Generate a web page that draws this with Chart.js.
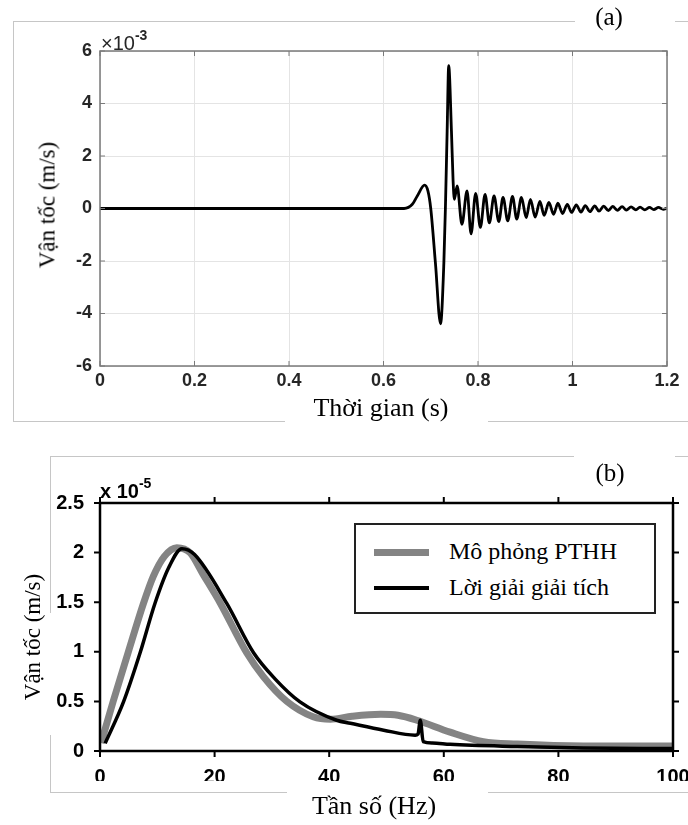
<!DOCTYPE html>
<html>
<head>
<meta charset="utf-8">
<script src="https://cdn.jsdelivr.net/npm/chart.js@4.4.1/dist/chart.umd.min.js"></script>
<style>
  html, body { margin: 0; padding: 0; background: #fff; }
  #page { position: relative; width: 688px; height: 825px; overflow: hidden; }
  canvas { position: absolute; left: 0; }
  .rule { position: absolute; background: #c6c6c6; }
  .txt { position: absolute; white-space: nowrap; line-height: 1; }
  .serif { font-family: 'Liberation Serif', 'Times New Roman', serif; color: #000; }
  .mid { transform: translate(-50%, -50%); }
  .ytitle { transform: translate(-50%, -50%) rotate(-90deg); }
  .expA { font-family: 'Liberation Sans', Arial, sans-serif; color: #262626; font-size: 20px; }
  .expA sup { font-size: 14px; font-weight: bold; position: relative; top: -2px; }
  .expB { font-family: 'Liberation Sans', Arial, sans-serif; color: #000; font-size: 20px; font-weight: bold; }
  .expB sup { font-size: 14px; position: relative; top: -2px; }
  #legendB { position: absolute; left: 354px; top: 523px; width: 298px; height: 87px; border: 2px solid #222; background: #fff; }
</style>
</head>
<body>
<div id="page">
  <canvas id="chartA" width="688" height="440" style="top:0"></canvas>
  <canvas id="chartB" width="688" height="385" style="top:440px"></canvas>

  <!-- leftover frame lines of the two panels -->
  <div class="rule" style="left:13px;top:21px;width:562px;height:1px"></div>
  <div class="rule" style="left:675px;top:21px;width:13px;height:1px"></div>
  <div class="rule" style="left:13px;top:21px;width:1px;height:400px"></div>
  <div class="rule" style="left:13px;top:421px;width:272px;height:1px"></div>
  <div class="rule" style="left:488px;top:421px;width:200px;height:1px"></div>

  <div class="rule" style="left:50px;top:456px;width:524px;height:1px"></div>
  <div class="rule" style="left:675px;top:456px;width:13px;height:1px"></div>
  <div class="rule" style="left:50px;top:456px;width:1px;height:157px"></div>
  <div class="rule" style="left:50px;top:735px;width:1px;height:57px"></div>
  <div class="rule" style="left:50px;top:792px;width:237px;height:1px"></div>
  <div class="rule" style="left:488px;top:792px;width:200px;height:1px"></div>

  <div class="txt serif mid" style="left:609px;top:16px;font-size:25px">(a)</div>
  <div class="txt serif mid" style="left:610px;top:472px;font-size:25px">(b)</div>

  <div class="txt serif mid" style="left:381px;top:408px;font-size:26px">Thời gian (s)</div>
  <div class="txt serif ytitle" style="left:47px;top:205px;font-size:23px">Vận tốc (m/s)</div>
  <div class="txt expA" style="left:101px;top:30px">×10<sup>-3</sup></div>

  <div class="txt serif mid" style="left:374px;top:806px;font-size:26px">Tần số (Hz)</div>
  <div class="txt serif ytitle" style="left:32px;top:637px;font-size:23px">Vận tốc (m/s)</div>
  <div class="txt expB" style="left:100px;top:478px">x 10<sup>-5</sup></div>

  <div id="legendB"></div>
</div>

<script>
// (a) velocity vs time, values in 1e-3 m/s
const timeS = [0, 0.62, 0.6434, 0.661, 0.6715, 0.687, 0.694, 0.70, 0.710, 0.7207, 0.7277, 0.731,
  0.7347, 0.738, 0.7438, 0.7473, 0.750, 0.7558, 0.766, 0.7768, 0.7853, 0.795, 0.805, 0.815,
  0.824, 0.834, 0.844, 0.853, 0.863, 0.873, 0.882, 0.892, 0.902, 0.911, 0.921, 0.931, 0.940,
  0.950, 0.960, 0.969, 0.979, 0.989, 0.998, 1.008, 1.018, 1.027, 1.037, 1.047, 1.056, 1.066,
  1.076, 1.085, 1.095, 1.105, 1.114, 1.124, 1.134, 1.143, 1.153, 1.163, 1.172, 1.182, 1.192, 1.2];
const velA = [0, 0, 0, 0.16, 0.48, 0.89, 0.67, 0, -2.1, -4.39, -2.1, 0,
  2.95, 5.44, 2.95, 1.05, 0.35, 0.86, -0.6, 0.67, -0.97, 0.58, -0.72, 0.54,
  -0.55, 0.48, -0.5, 0.42, -0.47, 0.46, -0.4, 0.42, -0.35, 0.35, -0.33, 0.27, -0.26,
  0.23, -0.22, 0.2, -0.19, 0.16, -0.15, 0.14, -0.14, 0.11, -0.12, 0.1, -0.1, 0.09,
  -0.08, 0.08, -0.07, 0.07, -0.06, 0.06, -0.05, 0.05, -0.05, 0.04, -0.04, 0.04, -0.03, 0.01];
const timeTicks = [0, 0.2, 0.4, 0.6, 0.8, 1, 1.2];
const velTicks = [-6, -4, -2, 0, 2, 4, 6];

// (b) spectrum, values in 1e-5 m/s
const freqFE = [0.2, 2.3, 4.9, 7.6, 9.3, 11.2, 13.4, 15.7, 18.0, 21.0, 25.6, 28.5, 32.6, 37.2,
  40.2, 44.0, 49.0, 52.0, 55.3, 61.1, 66.9, 72.8, 84.4, 100];
const specFE = [0.08, 0.5, 0.99, 1.49, 1.76, 1.96, 2.05, 2.0, 1.78, 1.49, 0.99, 0.75, 0.5, 0.345,
  0.32, 0.35, 0.37, 0.36, 0.31, 0.19, 0.094, 0.07, 0.05, 0.05];
const freqAN = [0.9, 4.1, 7.0, 9.6, 12.0, 14.3, 16.5, 22.1, 26.8, 30.5, 34.9, 41.3, 43.7, 49.5,
  55.0, 55.5, 55.9, 56.4, 58.0, 61.1, 72.8, 84.4, 100];
const specAN = [0.077, 0.495, 0.99, 1.49, 1.85, 2.04, 1.98, 1.49, 0.99, 0.73, 0.495, 0.31, 0.28, 0.21,
  0.16, 0.17, 0.31, 0.094, 0.08, 0.067, 0.045, 0.03, 0.025];
const freqTicks = [0, 20, 40, 60, 80, 100];
const specTicks = [0, 0.5, 1, 1.5, 2, 2.5];

const labelsFE = 'Mô phỏng PTHH';
const labelsAN = 'Lời giải giải tích';

const toPoints = (xs, ys) => xs.map((x, i) => ({ x, y: ys[i] }));

// frame box + tick marks on all four sides (inward for a, outward for b)
const boxTicks = {
  id: 'boxTicks',
  afterDatasetsDraw(chart, args, o) {
    const { ctx, chartArea: a, scales } = chart;
    const len = o.inward ? o.len : -o.len;
    ctx.save();
    ctx.strokeStyle = o.color;
    ctx.lineWidth = o.width;
    ctx.beginPath();
    for (const t of scales.x.ticks) {
      const px = scales.x.getPixelForValue(t.value);
      ctx.moveTo(px, a.bottom); ctx.lineTo(px, a.bottom - len);
      ctx.moveTo(px, a.top); ctx.lineTo(px, a.top + len);
    }
    for (const t of scales.y.ticks) {
      const py = scales.y.getPixelForValue(t.value);
      ctx.moveTo(a.left, py); ctx.lineTo(a.left + len, py);
      ctx.moveTo(a.right, py); ctx.lineTo(a.right - len, py);
    }
    ctx.stroke();
    ctx.lineWidth = o.boxWidth;
    ctx.strokeRect(a.left, a.top, a.right - a.left, a.bottom - a.top);
    ctx.restore();
  }
};

function fixedAxis(ticks, size, isX) {
  return {
    afterBuildTicks: (s) => { s.ticks = ticks.map((v) => ({ value: v })); },
    afterFit: (s) => {
      if (isX) s.height = size; else s.width = size;
      s.paddingLeft = 0; s.paddingRight = 0; s.paddingTop = 0; s.paddingBottom = 0;
    },
  };
}

new Chart(document.getElementById('chartA'), {
  type: 'line',
  data: {
    datasets: [{
      data: toPoints(timeS, velA),
      borderColor: '#000',
      borderWidth: 2.8,
      pointRadius: 0,
      cubicInterpolationMode: 'monotone',
      fill: false,
    }],
  },
  options: {
    responsive: false,
    animation: false,
    events: [],
    layout: { padding: { left: 0, right: 21, top: 51, bottom: 44 } },
    plugins: {
      legend: { display: false },
      tooltip: { enabled: false },
      boxTicks: { color: '#7a7a7a', width: 1, boxWidth: 1.5, len: 5, inward: true },
    },
    scales: {
      x: {
        type: 'linear', min: 0, max: 1.2,
        ...fixedAxis(timeTicks, 30, true),
        ticks: { padding: 4, color: '#262626', font: { family: "'Liberation Sans', Arial, sans-serif", size: 18, weight: 'bold' }, callback: (v) => String(v) },
        grid: { color: '#e4e4e4', lineWidth: 1, drawTicks: false },
        border: { display: false },
      },
      y: {
        min: -6, max: 6,
        ...fixedAxis(velTicks, 100, false),
        ticks: { padding: 8, color: '#262626', font: { family: "'Liberation Sans', Arial, sans-serif", size: 18, weight: 'bold' }, callback: (v) => String(v) },
        grid: { color: '#e4e4e4', lineWidth: 1, drawTicks: false },
        border: { display: false },
      },
    },
  },
  plugins: [boxTicks],
});

const datasetsB = [
  {
    label: labelsFE,
    data: toPoints(freqFE, specFE),
    borderColor: '#848484',
    borderWidth: 7,
    order: 1,
  },
  {
    label: labelsAN,
    data: toPoints(freqAN, specAN),
    borderColor: '#000',
    borderWidth: 3.5,
    order: 0,
  },
];

new Chart(document.getElementById('chartB'), {
  type: 'line',
  data: {
    datasets: datasetsB.map((d) => ({ ...d, pointRadius: 0, cubicInterpolationMode: 'monotone', fill: false })),
  },
  options: {
    responsive: false,
    animation: false,
    events: [],
    layout: { padding: { left: 0, right: 15, top: 63, bottom: 44 } },
    plugins: {
      legend: { display: false },
      tooltip: { enabled: false },
      boxTicks: { color: '#000', width: 2, boxWidth: 2.5, len: 6, inward: false },
    },
    scales: {
      x: {
        type: 'linear', min: 0, max: 100,
        ...fixedAxis(freqTicks, 30, true),
        ticks: { padding: 14, color: '#000', font: { family: "'Liberation Sans', Arial, sans-serif", size: 20, weight: 'bold' }, callback: (v) => String(v) },
        grid: { display: false, drawTicks: false },
        border: { display: false },
      },
      y: {
        min: 0, max: 2.5,
        ...fixedAxis(specTicks, 100, false),
        ticks: { padding: 16, color: '#000', font: { family: "'Liberation Sans', Arial, sans-serif", size: 20, weight: 'bold' }, callback: (v) => String(v) },
        grid: { display: false, drawTicks: false },
        border: { display: false },
      },
    },
  },
  plugins: [boxTicks],
});

// legend box for (b), built from the datasets
const legendEl = document.getElementById('legendB');
datasetsB.forEach((d, i) => {
  const cy = 27 + i * 36;
  const line = document.createElement('div');
  line.style.cssText = `position:absolute;left:18px;width:55px;top:${cy - d.borderWidth / 2}px;height:${d.borderWidth}px;background:${d.borderColor}`;
  const text = document.createElement('div');
  text.className = 'txt serif';
  text.style.cssText = `left:93px;top:${cy}px;font-size:24px;transform:translateY(-55%)`;
  text.textContent = d.label;
  legendEl.appendChild(line);
  legendEl.appendChild(text);
});
</script>
</body>
</html>
